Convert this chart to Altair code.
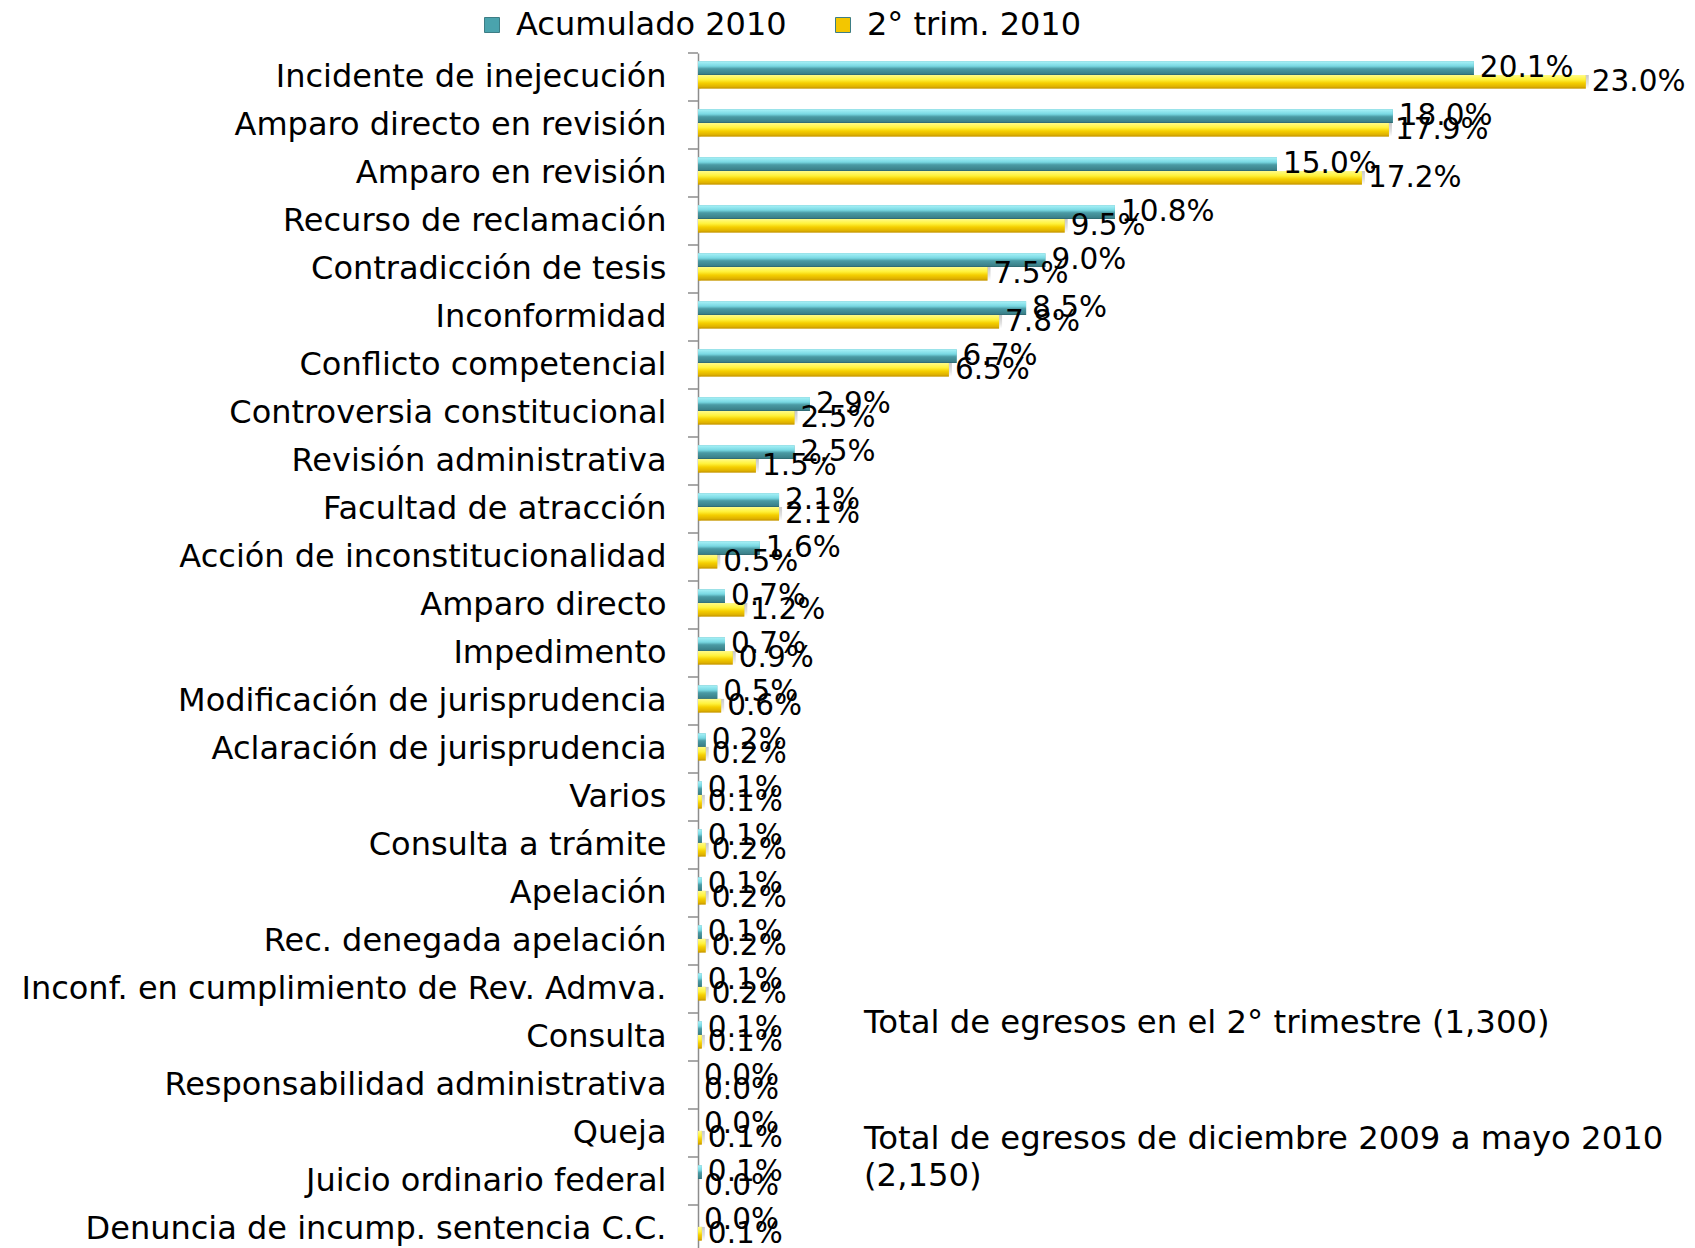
import altair as alt
import pandas as pd

categories = [
    "Incidente de inejecución",
    "Amparo directo en revisión",
    "Amparo en revisión",
    "Recurso de reclamación",
    "Contradicción de tesis",
    "Inconformidad",
    "Conflicto competencial",
    "Controversia constitucional",
    "Revisión administrativa",
    "Facultad de atracción",
    "Acción de inconstitucionalidad",
    "Amparo directo",
    "Impedimento",
    "Modificación de jurisprudencia",
    "Aclaración de jurisprudencia",
    "Varios",
    "Consulta a trámite",
    "Apelación",
    "Rec. denegada apelación",
    "Inconf. en cumplimiento de Rev. Admva.",
    "Consulta ",
    "Responsabilidad administrativa",
    "Queja",
    "Juicio ordinario federal",
    "Denuncia de incump. sentencia C.C.",
]
acumulado = [20.1, 18.0, 15.0, 10.8, 9.0, 8.5, 6.7, 2.9, 2.5, 2.1, 1.6, 0.7, 0.7,
             0.5, 0.2, 0.1, 0.1, 0.1, 0.1, 0.1, 0.1, 0.0, 0.0, 0.1, 0.0]
trimestre = [23.0, 17.9, 17.2, 9.5, 7.5, 7.8, 6.5, 2.5, 1.5, 2.1, 0.5, 1.2, 0.9,
             0.6, 0.2, 0.1, 0.2, 0.2, 0.2, 0.2, 0.1, 0.0, 0.1, 0.0, 0.1]
series_names = ["Acumulado 2010", "2° trim. 2010"]
notes = [
    "Total de egresos en el 2° trimestre (1,300)",
    "Total de egresos de diciembre 2009 a mayo 2010",
    "(2,150)",
]

rows = []
for c, a, t in zip(categories, acumulado, trimestre):
    rows.append({"cat": c, "serie": series_names[0], "valor": a})
    rows.append({"cat": c, "serie": series_names[1], "valor": t})
df = pd.DataFrame(rows)

FONT = "DejaVu Sans"
AXIS_GRAY = "#8c8c8c"

y_scale = alt.Scale(domain=categories, range=[0, 1200], paddingInner=0, paddingOuter=0)
yoff_scale = alt.Scale(domain=series_names, paddingInner=0, paddingOuter=0.77, align=0.4)
x_scale = alt.Scale(domain=[0, 25], nice=False, zero=True)

y_axis = alt.Axis(
    title=None, ticks=False, labelFontSize=32, labelPadding=32, labelLimit=900,
    domainColor=AXIS_GRAY, domainWidth=1.5, labelColor="black", labelFont=FONT,
    grid=False,
)
y_enc = alt.Y("cat:N", scale=y_scale, sort=None, axis=y_axis)
yoff = alt.YOffset("serie:N", scale=yoff_scale)
x_enc = alt.X("valor:Q", scale=x_scale, axis=None)

teal_grad = alt.Gradient(
    gradient="linear", x1=0, x2=0, y1=0, y2=1,
    stops=[
        alt.GradientStop(color="#a8f2f8", offset=0),
        alt.GradientStop(color="#78d8e2", offset=0.35),
        alt.GradientStop(color="#4a9aa4", offset=0.55),
        alt.GradientStop(color="#3b818a", offset=0.9),
        alt.GradientStop(color="#2c646c", offset=1),
    ],
)
yellow_grad = alt.Gradient(
    gradient="linear", x1=0, x2=0, y1=0, y2=1,
    stops=[
        alt.GradientStop(color="#fffb8a", offset=0),
        alt.GradientStop(color="#fff23a", offset=0.35),
        alt.GradientStop(color="#f5cf00", offset=0.6),
        alt.GradientStop(color="#dcae00", offset=0.9),
        alt.GradientStop(color="#b88900", offset=1),
    ],
)
shadow_grad = alt.Gradient(
    gradient="linear", x1=0, x2=0, y1=0, y2=1,
    stops=[
        alt.GradientStop(color="#9a9a9a", offset=0),
        alt.GradientStop(color="#c8c8c8", offset=0.6),
        alt.GradientStop(color="#ffffff", offset=1),
    ],
)

base = alt.Chart(df)

legend_bars = base.mark_bar().encode(
    x=x_enc,
    y=y_enc,
    yOffset=yoff,
    color=alt.Color(
        "serie:N",
        scale=alt.Scale(domain=series_names, range=["#4aa3ad", "#f3c600"]),
        legend=alt.Legend(
            orient="none", legendX=-222, legendY=-44, direction="horizontal",
            title=None, labelFontSize=32, labelFont=FONT, symbolType="square",
            symbolSize=225, symbolStrokeColor="#3d7d85", symbolStrokeWidth=1,
            labelOffset=8, columnPadding=40, labelColor="black", labelLimit=500,
        ),
    ),
)

shadow_bars = base.transform_filter(alt.datum.serie == series_names[1]).mark_bar(
    color=shadow_grad, opacity=0.55, yOffset=5, xOffset=3
).encode(x=x_enc, y=y_enc, yOffset=yoff)

teal_bars = base.transform_filter(alt.datum.serie == series_names[0]).mark_bar(
    color=teal_grad
).encode(x=x_enc, y=y_enc, yOffset=yoff)

yellow_bars = base.transform_filter(alt.datum.serie == series_names[1]).mark_bar(
    color=yellow_grad
).encode(x=x_enc, y=y_enc, yOffset=yoff)

labels = base.transform_calculate(
    label="format(datum.valor, '.1f') + '%'"
).mark_text(
    align="left", baseline="middle", dx=6, fontSize=29.5, font=FONT, color="black"
).encode(x=x_enc, y=y_enc, yOffset=yoff, text="label:N")

ticks = alt.Chart(pd.DataFrame({"cat": categories})).mark_rule(
    color=AXIS_GRAY, strokeWidth=1.5
).encode(
    y=alt.Y("cat:N", scale=y_scale, sort=None, bandPosition=0, axis=y_axis),
    x=alt.value(-10),
    x2=alt.value(0),
)

notes_df = pd.DataFrame({
    "cat": ["Consulta ", "Queja", "Queja"],
    "x": [4.3, 4.3, 4.3],
    "t": notes,
    "k": [0, 1, 2],
})


def note_layer(k, dy):
    return alt.Chart(notes_df).transform_filter(alt.datum.k == k).mark_text(
        align="left", baseline="middle", fontSize=32.3, font=FONT, color="black", dy=dy
    ).encode(
        x=alt.X("x:Q", scale=x_scale, axis=None),
        y=alt.Y("cat:N", scale=y_scale, sort=None, axis=y_axis),
        text="t:N",
    )


chart = alt.layer(
    legend_bars, shadow_bars, teal_bars, yellow_bars, labels, ticks,
    note_layer(0, -14), note_layer(1, 6), note_layer(2, 43),
).properties(
    width=965,
    height=1195,
    autosize=alt.AutoSizeParams(type="none"),
    padding={"left": 690, "top": 45, "right": 24, "bottom": 0},
).configure_view(stroke=None)

chart.save("out.html", embed_options={"renderer": "svg", "actions": False})
